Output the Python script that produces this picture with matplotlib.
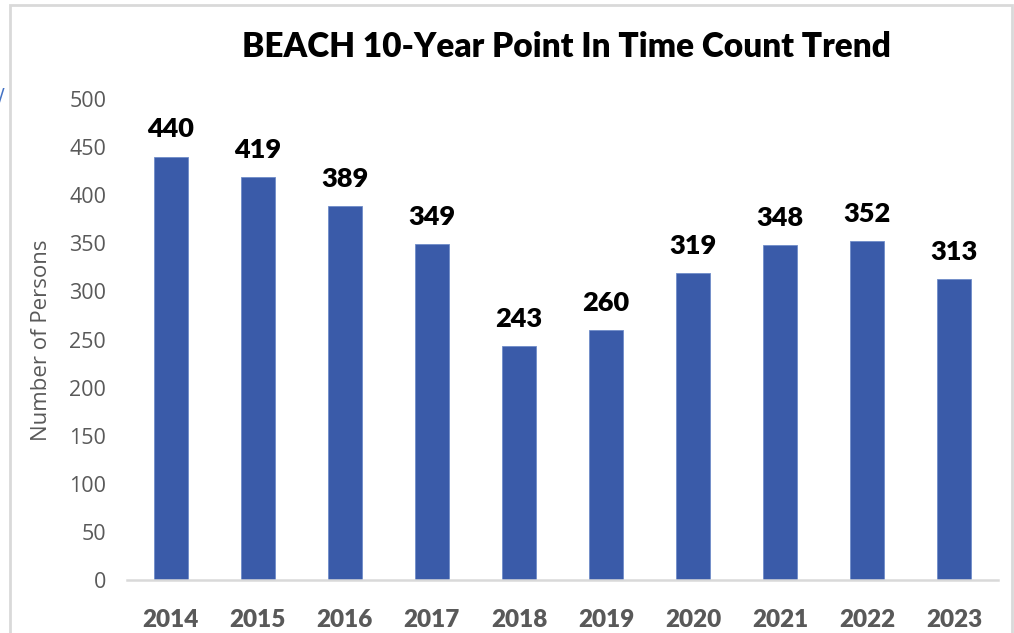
import matplotlib
matplotlib.use("Agg")
import matplotlib.pyplot as plt
from matplotlib.patches import Rectangle

years = ["2014", "2015", "2016", "2017", "2018", "2019", "2020", "2021", "2022", "2023"]
counts = [440, 419, 389, 349, 243, 260, 319, 348, 352, 313]
yticks = [0, 50, 100, 150, 200, 250, 300, 350, 400, 450, 500]

W, H = 1014, 633
fig = plt.figure(figsize=(W / 100, H / 100), dpi=100)
fig.patch.set_facecolor("white")

# outer chart frame
fig.patches.append(Rectangle((10 / W, -0.05), (1012 - 10) / W, 1.05 - 5 / H,
                             transform=fig.transFigure, fill=False,
                             edgecolor="#d9d9d9", linewidth=2))
fig.text(-0.002, 1 - 96 / H, "/", color="#4472c4", fontsize=14, ha="left", va="center",
         family="DejaVu Sans")

ax = fig.add_axes([127 / W, 1 - 580 / H, (998 - 127) / W, (580 - 99) / H])
x = list(range(len(years)))
bars = ax.bar(x, counts, width=0.39, color="#3a5ba9", edgecolor="#6f8cc9", linewidth=0.6, zorder=2)

for xi, v in zip(x, counts):
    ax.annotate(str(v), (xi, v), xytext=(0, 11), textcoords="offset points",
                ha="center", va="bottom", fontsize=19.5, fontweight="heavy",
                family="Lato", color="black")

ax.set_xlim(-0.5, len(years) - 0.5)
ax.set_ylim(0, 500)
ax.set_yticks(yticks)
ax.set_yticklabels([str(t) for t in yticks], fontsize=15.5, color="#595959", family="Open Sans")
ax.set_xticks(x)
ax.set_xticklabels(years, fontsize=17.5, fontweight="heavy", color="#595959", family="Lato")
ax.tick_params(axis="y", length=0, pad=15)
ax.tick_params(axis="x", length=0, pad=21)
for s in ["top", "right", "left"]:
    ax.spines[s].set_visible(False)
ax.spines["bottom"].set_color("#d9d9d9")
ax.spines["bottom"].set_linewidth(1.8)

ax.set_ylabel("Number of Persons", fontsize=16, color="#595959", family="Open Sans")
ax.yaxis.set_label_coords(-(127 - 52) / (998 - 127), (580 - 340) / (580 - 99))

fig.text(566 / W, 1 - 47 / H, "BEACH 10-Year Point In Time Count Trend", ha="center", va="center",
         fontsize=24, fontweight="heavy", family="Lato", color="black")

fig.savefig("out.png", dpi=100)
